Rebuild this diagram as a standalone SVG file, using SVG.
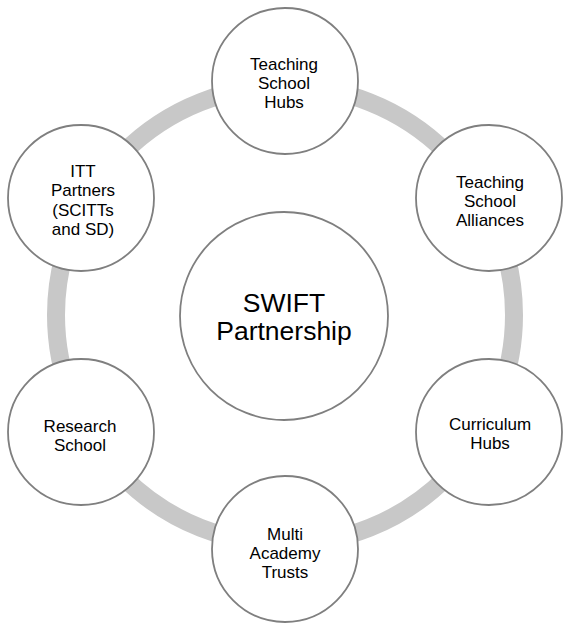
<svg xmlns="http://www.w3.org/2000/svg" width="564" height="624" viewBox="0 0 564 624">
<style>
.node{fill:#fff;stroke:#7f7f7f;stroke-width:1.8}
.t{font-family:"Liberation Sans",Arial,sans-serif;font-size:17px;fill:#000;text-anchor:middle}
.tc{font-family:"Liberation Sans",Arial,sans-serif;font-size:26.5px;fill:#000;text-anchor:middle}
</style>
<rect width="564" height="624" fill="#fff"/>
<g id="connectors">
<circle cx="285" cy="315" r="229" fill="none" stroke="#c8c8c8" stroke-width="18"/>
</g>
<g id="center">
<circle class="node" cx="284" cy="316" r="104"/>
<text class="tc" x="284" y="312">SWIFT</text>
<text class="tc" x="284" y="340">Partnership</text>
</g>
<g id="hubs">
<circle class="node" cx="285" cy="81" r="73"/>
<text class="t" x="284" y="70">Teaching</text>
<text class="t" x="284" y="89">School</text>
<text class="t" x="284" y="108">Hubs</text>
</g>
<g id="alliances">
<circle class="node" cx="489" cy="198" r="73"/>
<text class="t" x="490" y="188">Teaching</text>
<text class="t" x="490" y="207">School</text>
<text class="t" x="490" y="226">Alliances</text>
</g>
<g id="curriculum">
<circle class="node" cx="489" cy="432" r="73"/>
<text class="t" x="490" y="430">Curriculum</text>
<text class="t" x="490" y="449">Hubs</text>
</g>
<g id="mat">
<circle class="node" cx="285" cy="549" r="73"/>
<text class="t" x="285" y="540">Multi</text>
<text class="t" x="285" y="559">Academy</text>
<text class="t" x="285" y="578">Trusts</text>
</g>
<g id="research">
<circle class="node" cx="81" cy="432" r="73"/>
<text class="t" x="80" y="432">Research</text>
<text class="t" x="80" y="451">School</text>
</g>
<g id="itt">
<circle class="node" cx="81" cy="198" r="73"/>
<text class="t" x="83" y="177">ITT</text>
<text class="t" x="83" y="196">Partners</text>
<text class="t" x="83" y="216">(SCITTs</text>
<text class="t" x="83" y="235">and SD)</text>
</g>
</svg>
